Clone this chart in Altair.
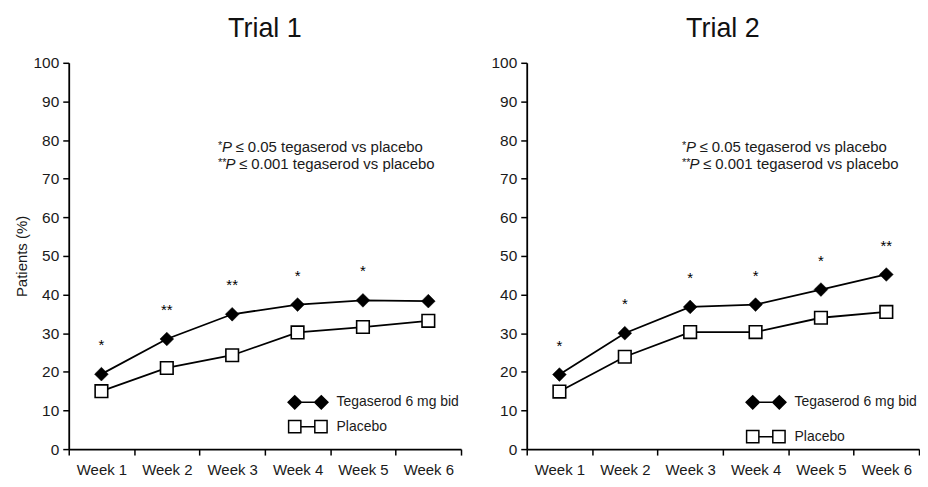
import altair as alt
import pandas as pd

# ---------------- data ----------------
weeks = ["Week 1", "Week 2", "Week 3", "Week 4", "Week 5", "Week 6"]
series_names = ["Tegaserod 6 mg bid", "Placebo"]

trial1_tegaserod = [19.4, 28.5, 34.9, 37.4, 38.5, 38.3]
trial1_placebo = [15.0, 21.0, 24.3, 30.2, 31.6, 33.2]
trial1_sig = ["*", "**", "**", "*", "*", ""]

trial2_tegaserod = [19.3, 30.0, 36.8, 37.4, 41.3, 45.2]
trial2_placebo = [14.9, 23.9, 30.3, 30.3, 34.0, 35.5]
trial2_sig = ["*", "*", "*", "*", "*", "**"]

note_stars = ["*", "**"]
note_p = ["P", "P"]
note_rest = ["\u2264 0.05 tegaserod vs placebo", "\u2264 0.001 tegaserod vs placebo"]

y_ticks = list(range(0, 101, 10))

# ---------------- style ----------------
FONT = "Liberation Sans"
W = 394
H = 388

# custom legend glyphs: symbol - line - symbol (unit = half symbol size)
TEG_PATH = ("M-0.95,0L0,-0.95L0.95,0L0,0.95Z "
            "M2.86,0L3.81,-0.95L4.76,0L3.81,0.95Z "
            "M0.95,0L2.86,0")
PLA_PATH = ("M-0.88,-0.88L0.88,-0.88L0.88,0.88L-0.88,0.88Z "
            "M2.88,-0.88L4.64,-0.88L4.64,0.88L2.88,0.88Z "
            "M0.88,0L2.88,0")


def panel(title, teg, pla, sig, y_title, legend_row_pad, note_x):
    long_df = pd.DataFrame({
        "week": weeks * 2,
        "series": [series_names[0]] * len(weeks) + [series_names[1]] * len(weeks),
        "value": teg + pla,
    })
    sig_df = pd.DataFrame({"week": weeks, "value": teg, "sig": sig})
    legend_df = pd.DataFrame({"series": series_names})

    x_enc = alt.X(
        "week:N", sort=weeks,
        scale=alt.Scale(type="band", paddingInner=0, paddingOuter=0),
        axis=alt.Axis(title=None, labelAngle=0, tickBand="extent",
                      labelFont=FONT, labelFontSize=15, labelColor="#1a1a1a",
                      labelPadding=8, tickSize=6, tickWidth=1.5, tickColor="black",
                      domainColor="black", domainWidth=1.8, grid=False),
    )
    y_axis_kwargs = dict(values=y_ticks, tickCount=len(y_ticks) + 1, labelOverlap=False,
                         labelFont=FONT, labelFontSize=15.5,
                         labelColor="#1a1a1a", labelPadding=4, tickSize=6,
                         tickWidth=1.5, tickColor="black", domainColor="black",
                         domainWidth=1.8, grid=False)
    if y_title:
        y_axis = alt.Axis(title=y_title, titleFont=FONT, titleFontSize=15,
                          titleFontWeight="normal", titleColor="#1a1a1a",
                          titlePadding=4, **y_axis_kwargs)
    else:
        y_axis = alt.Axis(title=None, **y_axis_kwargs)
    y_enc = alt.Y("value:Q", scale=alt.Scale(domain=[0, 100], nice=False), axis=y_axis)

    base = alt.Chart(long_df).encode(x=x_enc, y=y_enc)
    lines = base.mark_line(color="black", strokeWidth=1.8).encode(detail="series:N")
    teg_pts = base.transform_filter(alt.datum.series == series_names[0]).mark_point(
        shape="diamond", filled=True, fill="black", stroke="black", strokeWidth=0.5,
        size=190, opacity=1)
    pla_pts = base.transform_filter(alt.datum.series == series_names[1]).mark_point(
        shape="square", filled=True, fill="white", stroke="black", strokeWidth=1.6,
        size=160, opacity=1)

    stars = alt.Chart(sig_df).mark_text(
        font=FONT, fontSize=15, baseline="alphabetic", dy=-24, color="black"
    ).encode(x=x_enc, y=y_enc, text="sig:N")

    legend_props = dict(
        title=None, orient="none", legendX=219, legendY=333,
        direction="vertical", padding=0, symbolSize=196,
        symbolStrokeColor="black", symbolStrokeWidth=1.5,
        labelFont=FONT, labelFontSize=14, labelColor="#1a1a1a",
        labelOffset=34, rowPadding=legend_row_pad, symbolOpacity=1,
    )
    carrier = alt.Chart(legend_df).transform_filter("false").mark_point(
        filled=True, opacity=1, stroke="black", strokeWidth=1.5
    ).encode(
        shape=alt.Shape("series:N",
                        scale=alt.Scale(domain=series_names, range=[TEG_PATH, PLA_PATH]),
                        legend=alt.Legend(**legend_props)),
        fill=alt.Fill("series:N",
                      scale=alt.Scale(domain=series_names, range=["black", "white"]),
                      legend=alt.Legend(**legend_props)),
        stroke=alt.Stroke("series:N",
                          scale=alt.Scale(domain=series_names, range=["black", "black"]),
                          legend=alt.Legend(**legend_props)),
    )

    notes = []
    line_y = [90, 107]
    p_shift = [4, 7.5]
    for i in range(len(note_stars)):
        src = alt.Chart(legend_df).transform_filter(
            "datum.series == '%s'" % series_names[0])
        notes.append(src.mark_text(text=note_stars[i], font=FONT, fontSize=11, align="left",
                                   baseline="alphabetic", color="#1a1a1a", dy=-3)
                     .encode(x=alt.value(note_x), y=alt.value(line_y[i])))
        notes.append(src.mark_text(text=note_p[i], font=FONT, fontSize=15, fontStyle="italic",
                                   align="left", baseline="alphabetic", color="#1a1a1a")
                     .encode(x=alt.value(note_x + p_shift[i]), y=alt.value(line_y[i])))
        notes.append(src.mark_text(text=note_rest[i], font=FONT, fontSize=15,
                                   align="left", baseline="alphabetic", color="#1a1a1a")
                     .encode(x=alt.value(note_x + p_shift[i] + 13.5), y=alt.value(line_y[i])))

    layered = alt.layer(lines, teg_pts, pla_pts, stars, carrier, *notes).properties(
        width=W, height=H,
        title=alt.TitleParams(title, font=FONT, fontSize=27, fontWeight="normal",
                              color="#111111", anchor="middle", offset=13),
    )
    return layered


left = panel("Trial 1", trial1_tegaserod, trial1_placebo, trial1_sig,
             "Patients (%)", 4.5, 150)
right = panel("Trial 2", trial2_tegaserod, trial2_placebo, trial2_sig,
              None, 14.5, 156)

chart = alt.hconcat(left, right, spacing=66, bounds="flush").resolve_scale(
    shape="independent", fill="independent", stroke="independent"
).resolve_legend(
    shape="independent", fill="independent", stroke="independent"
).properties(
    padding={"left": 6, "top": 6, "right": 0, "bottom": 0}
).configure_view(stroke=None).configure_legend(
    symbolStrokeColor="black", symbolStrokeWidth=1.5
)

chart.save("out.html", embed_options={"renderer": "svg", "actions": False})
